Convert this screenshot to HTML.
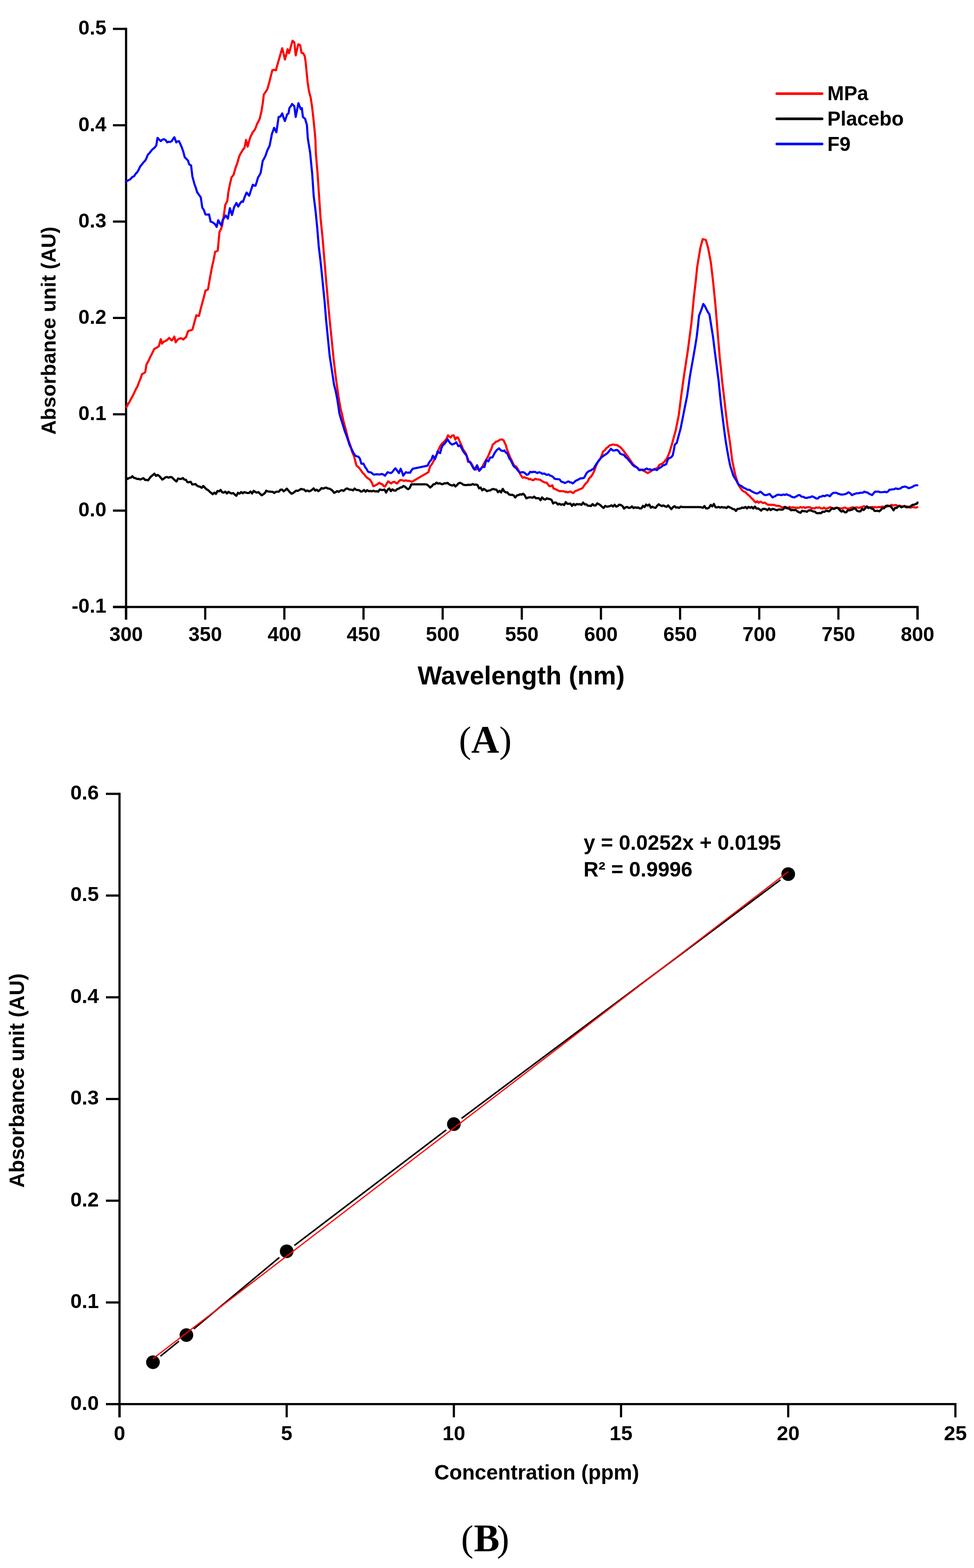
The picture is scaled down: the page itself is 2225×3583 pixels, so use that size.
<!DOCTYPE html>
<html><head><meta charset="utf-8"><title>Figure</title>
<style>html,body{margin:0;padding:0;background:#fff;overflow:hidden;}svg{display:block;}</style>
</head><body>
<svg width="2225" height="3583" viewBox="0 0 2225 3583">
<rect width="100%" height="100%" fill="#fff"/>
<g stroke="#000" stroke-width="5.0" fill="none" stroke-linecap="butt">
<path d="M288.0 63.5 V1416.0"/>
<path d="M258.0 1387.0 H2096.0 V1416.0"/>
<path d="M258.0 66.0 H288.0"/>
<path d="M258.0 286.2 H288.0"/>
<path d="M258.0 506.3 H288.0"/>
<path d="M258.0 726.5 H288.0"/>
<path d="M258.0 946.7 H288.0"/>
<path d="M258.0 1166.8 H288.0"/>
<path d="M258.0 1387.0 H288.0"/>
<path d="M288.0 1387.0 V1416.0"/>
<path d="M468.8 1387.0 V1416.0"/>
<path d="M649.6 1387.0 V1416.0"/>
<path d="M830.4 1387.0 V1416.0"/>
<path d="M1011.2 1387.0 V1416.0"/>
<path d="M1192.0 1387.0 V1416.0"/>
<path d="M1372.8 1387.0 V1416.0"/>
<path d="M1553.6 1387.0 V1416.0"/>
<path d="M1734.4 1387.0 V1416.0"/>
<path d="M1915.2 1387.0 V1416.0"/>
<path d="M2096.0 1387.0 V1416.0"/>
</g>
<g font-family="'Liberation Sans', Arial, sans-serif" font-weight="bold" font-size="46" fill="#000" text-anchor="end">
<text x="243" y="79.3">0.5</text>
<text x="243" y="299.5">0.4</text>
<text x="243" y="519.6">0.3</text>
<text x="243" y="739.8">0.2</text>
<text x="243" y="960.0">0.1</text>
<text x="243" y="1180.1">0.0</text>
<text x="243" y="1400.3">-0.1</text>
</g>
<g font-family="'Liberation Sans', Arial, sans-serif" font-weight="bold" font-size="46" fill="#000" text-anchor="middle">
<text x="288.0" y="1465">300</text>
<text x="468.8" y="1465">350</text>
<text x="649.6" y="1465">400</text>
<text x="830.4" y="1465">450</text>
<text x="1011.2" y="1465">500</text>
<text x="1192.0" y="1465">550</text>
<text x="1372.8" y="1465">600</text>
<text x="1553.6" y="1465">650</text>
<text x="1734.4" y="1465">700</text>
<text x="1915.2" y="1465">750</text>
<text x="2096.0" y="1465">800</text>
</g>
<text x="1190.5" y="1563.5" font-family="'Liberation Sans', Arial, sans-serif" font-weight="bold" font-size="59" text-anchor="middle">Wavelength (nm)</text>
<text transform="translate(126.5 755.7) rotate(-90)" font-family="'Liberation Sans', Arial, sans-serif" font-weight="bold" font-size="46.3" text-anchor="middle">Absorbance unit (AU)</text>
<g fill="none" stroke-width="4.8" stroke-linejoin="round" stroke-linecap="round">
<path stroke="#f00" d="M288.9 930.3L292.6 923.4 296.3 917.5 300.0 910.1 303.7 903.7 307.1 896.5 310.6 889.0 314.0 883.0 317.5 873.4 320.9 865.4 324.4 854.9 328.1 853.1 331.8 850.4 334.7 832.7 339.1 824.9 343.6 815.0 348.1 806.3 352.5 797.2 355.9 795.6 359.4 793.5 362.8 791.3 367.3 775.0 370.2 785.3 373.9 780.7 377.6 779.4 382.1 776.6 386.5 772.0 389.4 775.5 392.4 778.0 395.4 774.0 398.3 769.1 401.3 782.4 405.7 776.3 410.1 773.5 414.6 773.0 419.0 775.9 421.9 772.4 424.9 770.6 429.4 757.2 432.8 755.3 436.3 754.6 439.7 752.8 444.1 736.5 448.6 720.3 451.6 721.6 454.5 721.8 458.9 704.1 463.4 687.7 466.4 676.2 469.3 664.1 472.2 663.0 475.2 661.1 479.6 635.3 484.1 610.8 487.8 594.8 491.5 575.3 494.4 574.4 497.4 572.4 501.4 530.0 504.4 524.3 507.4 516.2 512.1 486.4 514.5 468.6 519.3 459.0 521.7 438.8 525.2 421.0 528.8 405.5 533.6 399.5 538.3 382.9 541.9 373.3 546.7 356.7 549.7 350.7 552.6 346.0 555.6 341.1 558.6 337.6 562.1 319.8 565.7 335.2 568.7 324.2 571.7 313.8 574.7 307.7 577.6 301.9 582.4 296.0 587.6 282.5 590.5 277.2 593.5 270.7 597.5 253.0 600.5 234.5 602.6 216.0 606.7 210.1 610.8 203.7 615.9 185.3 619.0 172.5 622.1 160.6 626.2 159.6 630.3 160.6 635.4 142.1 639.5 127.8 644.7 110.3 647.8 122.6 650.8 136.0 653.9 125.4 657.0 112.4 660.1 121.6 663.2 111.3 668.3 92.9 672.4 97.0 675.5 126.7 678.5 113.1 681.6 101.1 685.7 103.1 688.8 120.6 692.0 121.4 695.9 127.3 697.9 139.2 699.9 158.9 702.8 188.5 705.8 208.2 709.7 223.0 712.7 242.7 715.6 267.4 718.6 297.0 720.6 320.0 721.5 349.3 725.6 398.5 728.9 447.8 732.2 497.0 737.1 546.3 741.2 595.6 745.3 644.8 750.2 700.0 753.1 731.0 758.1 780.3 762.2 821.4 767.1 862.4 770.0 883.2 772.8 903.5 775.7 920.3 778.6 936.3 781.5 947.1 784.3 960.9 787.6 973.3 790.9 985.6 794.2 999.2 797.5 1010.2 800.8 1018.8 804.0 1031.5 809.0 1043.0 812.2 1056.2 814.7 1064.4 817.6 1066.5 820.5 1069.3 824.6 1074.9 828.7 1080.8 832.3 1084.1 835.9 1089.0 839.2 1092.1 842.5 1094.2 845.8 1096.9 849.2 1102.4 852.7 1110.8 856.2 1110.1 859.7 1107.8 863.2 1106.0 866.6 1102.9 870.1 1105.8 873.6 1106.8 876.5 1110.7 879.5 1111.8 883.0 1106.2 886.5 1099.9 890.0 1102.5 893.4 1104.8 897.3 1101.6 901.3 1100.9 904.3 1103.5 907.3 1104.8 910.8 1100.2 914.2 1096.9 918.7 1097.4 923.2 1098.9 927.2 1097.6 931.1 1098.9 934.4 1098.6 937.7 1099.7 941.0 1100.9 978.7 1079.0 982.7 1065.2 986.7 1060.5 990.6 1053.3 994.6 1043.3 998.6 1037.4 1002.0 1027.0 1005.5 1019.5 1009.5 1013.6 1013.0 1010.8 1016.4 1007.6 1019.9 1002.6 1023.4 994.7 1026.3 997.8 1029.3 999.7 1032.8 995.3 1036.3 994.7 1040.2 1004.6 1043.2 999.6 1046.2 999.7 1050.2 1009.0 1054.1 1017.5 1058.1 1027.5 1061.5 1031.7 1065.0 1037.4 1069.0 1055.2 1074.0 1055.2 1078.0 1061.0 1081.9 1069.1 1086.9 1073.1 1091.8 1071.1 1094.8 1073.1 1097.8 1073.1 1101.1 1068.2 1104.4 1061.3 1107.7 1055.2 1110.7 1050.5 1113.7 1045.3 1116.7 1038.8 1119.6 1031.4 1122.7 1025.1 1125.8 1015.6 1129.2 1013.2 1132.7 1009.6 1136.0 1008.5 1139.4 1006.8 1142.7 1004.6 1146.7 1004.0 1150.6 1006.6 1155.6 1017.5 1158.5 1027.7 1161.5 1035.4 1165.0 1044.3 1168.5 1051.3 1172.0 1058.8 1175.4 1065.2 1178.3 1065.2 1181.3 1069.1 1184.3 1074.4 1187.3 1081.0 1190.8 1087.3 1194.2 1091.9 1197.9 1090.4 1201.5 1092.4 1205.2 1092.9 1208.5 1095.3 1211.8 1094.3 1215.1 1096.9 1219.0 1097.0 1223.0 1093.9 1227.0 1095.5 1230.9 1095.7 1234.9 1096.9 1237.9 1099.2 1240.9 1100.9 1244.8 1102.5 1248.8 1102.9 1251.8 1107.0 1254.8 1110.8 1258.2 1110.9 1261.7 1108.8 1264.7 1116.7 1268.0 1117.4 1271.3 1119.0 1274.6 1120.7 1277.9 1122.4 1281.2 1122.1 1284.5 1122.7 1287.8 1122.2 1291.1 1124.3 1294.4 1123.7 1297.7 1125.2 1301.1 1123.3 1304.4 1123.7 1309.3 1126.7 1313.8 1122.3 1318.3 1120.7 1322.3 1118.9 1326.2 1117.3 1330.2 1115.8 1334.2 1110.0 1338.1 1104.8 1342.1 1100.9 1346.0 1093.2 1350.0 1089.0 1354.0 1083.3 1357.9 1075.1 1360.9 1065.9 1363.9 1059.2 1367.8 1052.5 1371.8 1047.3 1374.8 1040.0 1377.8 1031.4 1381.8 1028.6 1385.7 1023.5 1389.2 1021.4 1392.7 1017.5 1396.3 1016.9 1400.0 1015.7 1403.3 1016.3 1406.5 1016.7 1409.8 1017.0 1413.3 1019.7 1416.8 1021.3 1420.9 1026.0 1425.1 1031.0 1429.3 1036.9 1433.5 1042.2 1437.2 1048.3 1441.0 1053.3 1444.7 1058.9 1448.4 1062.9 1452.2 1066.0 1455.9 1068.7 1459.6 1072.6 1463.3 1072.8 1467.0 1074.3 1471.2 1076.2 1475.4 1078.6 1479.6 1081.3 1482.9 1079.0 1486.1 1077.6 1489.4 1074.3 1492.9 1072.2 1496.3 1071.2 1499.8 1070.9 1503.3 1067.3 1506.7 1061.9 1510.0 1060.6 1513.3 1059.1 1516.7 1056.1 1520.4 1051.6 1524.1 1046.3 1527.0 1039.4 1529.9 1032.0 1535.1 1014.7 1539.7 997.5 1543.7 983.1 1547.1 965.9 1550.6 948.6 1555.0 913.0 1559.0 883.6 1563.0 855.1 1567.2 827.9 1571.5 799.3 1575.5 768.8 1579.5 737.8 1582.6 705.2 1585.7 673.6 1589.2 643.9 1592.7 609.4 1596.2 588.8 1599.7 567.5 1602.5 556.4 1605.2 546.5 1608.8 547.3 1612.3 548.2 1617.6 566.3 1620.8 583.2 1624.0 600.5 1626.7 623.9 1629.4 647.5 1634.7 700.9 1639.0 754.4 1644.3 818.5 1647.0 842.5 1649.7 871.9 1652.9 898.1 1656.1 925.3 1659.3 953.0 1662.5 978.7 1665.7 998.9 1668.9 1021.5 1672.3 1050.6 1675.8 1067.3 1679.3 1084.1 1683.4 1097.6 1687.6 1109.2 1691.3 1114.7 1695.1 1120.0 1698.8 1123.2 1702.5 1124.3 1706.3 1128.4 1710.0 1131.6 1713.3 1134.3 1716.5 1138.3 1719.8 1140.7 1723.2 1145.5 1726.5 1148.2 1729.8 1145.4 1733.1 1149.0 1736.4 1146.3 1739.7 1147.6 1743.4 1149.5 1747.1 1148.5 1750.8 1151.3 1754.5 1153.5 1758.2 1153.5 1762.2 1153.4 1766.1 1153.5 1769.9 1154.4 1773.7 1155.8 1777.5 1155.9 1781.2 1156.4 1785.0 1158.8 1788.8 1159.1 1792.6 1158.8 1796.2 1158.6 1799.8 1161.8 1803.4 1158.0 1807.0 1160.2 1810.6 1159.1 1814.3 1159.6 1817.9 1160.3 1821.5 1160.0 1825.1 1160.5 1828.7 1158.5 1832.3 1160.1 1835.9 1158.6 1839.4 1160.8 1843.0 1159.2 1846.6 1159.2 1850.1 1158.8 1853.7 1161.6 1857.2 1161.1 1860.8 1161.9 1864.4 1159.5 1867.9 1160.5 1871.5 1159.4 1875.1 1161.3 1878.6 1162.2 1882.2 1159.7 1885.7 1162.2 1889.3 1161.7 1892.9 1160.5 1896.4 1158.8 1900.0 1160.8 1903.8 1162.2 1907.6 1160.7 1911.4 1160.2 1915.1 1161.2 1918.9 1161.2 1922.7 1162.3 1926.5 1160.8 1930.1 1159.6 1933.7 1161.6 1937.3 1161.8 1940.9 1161.6 1944.5 1159.8 1948.0 1159.1 1951.6 1160.7 1955.2 1159.6 1958.8 1159.5 1962.4 1160.6 1966.0 1159.0 1969.8 1158.7 1973.6 1156.7 1977.3 1158.6 1981.1 1157.1 1984.9 1159.8 1988.7 1159.3 1992.4 1158.4 1996.2 1159.0 2000.0 1159.0 2003.6 1159.5 2007.3 1158.4 2010.9 1159.2 2014.5 1157.5 2018.2 1158.2 2021.8 1158.3 2025.5 1158.1 2029.1 1155.4 2032.7 1156.6 2036.4 1153.5 2040.0 1155.0 2043.6 1154.3 2047.1 1153.8 2050.7 1157.1 2054.3 1155.2 2057.9 1156.8 2061.4 1157.0 2065.0 1157.5 2068.8 1157.7 2072.6 1157.3 2076.4 1158.3 2080.2 1160.0 2084.1 1158.5 2087.9 1159.2 2091.7 1159.8 2095.5 1159.0"/>
<path stroke="#000" stroke-width="5.0" d="M288.0 1090.9L291.6 1094.4 295.2 1092.0 298.8 1091.6 302.4 1088.2 306.0 1091.9 309.6 1092.7 313.2 1094.5 316.8 1094.3 320.4 1095.6 324.0 1094.4 327.6 1092.5 331.2 1096.7 334.8 1096.7 338.4 1097.6 342.0 1092.3 345.6 1088.4 349.2 1085.5 352.8 1082.4 356.4 1087.5 360.0 1085.2 363.6 1087.5 367.2 1091.5 370.8 1095.8 374.4 1093.6 378.0 1090.7 381.6 1090.0 385.2 1091.4 388.8 1090.1 392.4 1090.6 396.0 1093.9 399.6 1097.5 403.2 1100.2 406.8 1093.5 410.4 1094.2 414.0 1094.4 417.6 1092.3 421.2 1095.9 424.8 1096.5 428.4 1102.1 432.0 1101.7 435.6 1100.9 439.2 1107.1 442.8 1106.9 446.4 1105.9 450.0 1109.8 453.6 1111.5 457.2 1112.3 460.8 1114.7 464.4 1110.5 468.0 1114.4 471.6 1117.9 475.2 1119.8 478.8 1123.3 482.4 1126.4 486.0 1129.4 489.6 1125.6 493.2 1128.7 496.8 1122.0 500.4 1122.8 504.0 1119.5 507.6 1125.0 511.2 1125.7 514.8 1123.3 518.4 1127.6 522.0 1123.7 525.6 1126.3 529.2 1127.7 532.8 1126.7 536.4 1130.3 540.0 1132.9 543.6 1126.1 547.2 1128.1 550.8 1124.4 554.4 1127.1 558.0 1124.5 561.6 1125.6 565.2 1126.6 568.8 1126.5 572.4 1123.2 576.0 1127.7 579.6 1121.5 583.2 1124.2 586.8 1125.7 590.4 1124.5 594.0 1128.2 597.6 1131.7 601.2 1129.8 604.8 1127.1 608.4 1121.2 612.0 1123.1 615.6 1123.2 619.2 1123.8 622.8 1123.8 626.4 1126.5 630.0 1124.0 633.6 1123.4 637.2 1123.3 640.8 1118.9 644.4 1118.8 648.0 1122.7 651.6 1119.9 655.2 1116.6 658.8 1120.9 662.4 1124.9 666.0 1128.2 669.6 1126.4 673.2 1123.7 676.8 1121.1 680.4 1121.7 684.0 1119.6 687.6 1117.3 691.2 1118.1 694.8 1118.8 698.4 1122.5 702.0 1120.8 705.6 1122.7 709.2 1121.8 712.8 1119.3 716.4 1116.0 720.0 1121.0 723.6 1119.0 727.2 1122.4 730.8 1119.6 734.4 1115.4 738.0 1116.5 741.6 1115.1 745.2 1114.3 748.8 1116.3 752.4 1116.6 756.0 1118.5 759.6 1121.2 763.2 1126.1 766.8 1124.6 770.4 1122.2 774.0 1123.9 777.6 1121.1 781.2 1120.1 784.8 1121.8 788.4 1118.5 792.0 1116.0 795.6 1117.4 799.2 1119.1 802.8 1118.9 806.4 1120.6 810.0 1116.5 813.6 1119.4 817.2 1119.8 820.8 1120.3 824.4 1123.3 828.0 1122.6 831.6 1119.7 835.2 1123.7 838.8 1120.1 842.4 1122.5 846.0 1122.0 849.6 1122.8 853.2 1121.3 856.8 1123.0 860.4 1122.5 864.0 1123.5 867.6 1118.5 871.2 1119.4 874.8 1119.7 878.4 1118.6 882.0 1125.6 885.6 1119.1 889.2 1116.1 892.8 1122.3 896.4 1118.2 900.0 1120.7 903.6 1121.2 907.2 1117.8 910.8 1116.6 914.4 1114.3 918.0 1113.5 921.6 1110.5 925.2 1112.2 928.8 1115.6 932.4 1117.9 936.0 1115.1 939.6 1106.8 943.2 1106.8 946.8 1106.8 950.4 1106.8 954.0 1106.8 957.6 1106.8 961.2 1106.8 964.8 1106.8 968.4 1106.8 972.0 1106.8 975.6 1107.4 979.2 1110.4 982.8 1114.0 986.4 1111.1 990.0 1106.8 993.6 1106.3 997.2 1102.8 1000.8 1105.1 1004.4 1104.3 1008.0 1105.9 1011.6 1106.4 1015.2 1104.3 1018.8 1104.7 1022.4 1103.4 1026.0 1106.7 1029.6 1108.4 1033.2 1109.6 1036.8 1107.5 1040.4 1111.7 1044.0 1108.3 1047.6 1104.3 1051.2 1103.2 1054.8 1104.9 1058.4 1107.7 1062.0 1108.2 1065.6 1108.4 1069.2 1107.7 1072.8 1108.1 1076.4 1107.7 1080.0 1105.9 1083.6 1107.7 1087.2 1107.1 1090.8 1108.3 1094.4 1115.8 1098.0 1114.2 1101.6 1120.6 1105.2 1117.1 1108.8 1119.4 1112.4 1122.4 1116.0 1121.0 1119.6 1120.8 1123.2 1118.4 1126.8 1117.3 1130.4 1118.5 1134.0 1119.0 1137.6 1124.6 1141.2 1121.6 1144.8 1125.2 1148.4 1117.1 1152.0 1122.9 1155.6 1125.2 1159.2 1125.2 1162.8 1129.9 1166.4 1130.9 1170.0 1130.4 1173.6 1132.3 1177.2 1136.9 1180.8 1131.9 1184.4 1131.5 1188.0 1129.5 1191.6 1130.3 1195.2 1128.3 1198.8 1132.0 1202.4 1138.8 1206.0 1137.2 1209.6 1136.4 1213.2 1136.6 1216.8 1137.4 1220.4 1134.8 1224.0 1138.5 1227.6 1138.3 1231.2 1138.5 1234.8 1143.1 1238.4 1136.6 1242.0 1140.4 1245.6 1141.6 1249.2 1138.6 1252.8 1140.1 1256.4 1140.5 1260.0 1142.4 1263.6 1150.5 1267.2 1148.1 1270.8 1148.7 1274.4 1153.0 1278.0 1151.0 1281.6 1153.3 1285.2 1152.1 1288.8 1154.0 1292.4 1147.4 1296.0 1151.2 1299.6 1151.2 1303.2 1150.8 1306.8 1156.0 1310.4 1151.4 1314.0 1154.5 1317.6 1151.7 1321.2 1152.5 1324.8 1151.9 1328.4 1153.7 1332.0 1148.3 1335.6 1152.4 1339.2 1152.3 1342.8 1155.6 1346.4 1155.7 1350.0 1156.3 1353.6 1151.9 1357.2 1155.1 1360.8 1154.9 1364.4 1150.3 1368.0 1152.0 1371.6 1154.4 1375.2 1158.0 1378.8 1160.7 1382.4 1156.0 1386.0 1157.9 1389.6 1157.2 1393.2 1156.6 1396.8 1154.8 1400.4 1157.4 1404.0 1153.4 1407.6 1157.7 1411.2 1156.4 1414.8 1153.1 1418.4 1154.1 1422.0 1156.4 1425.6 1162.1 1429.2 1159.2 1432.8 1158.4 1436.4 1160.6 1440.0 1160.2 1443.6 1157.1 1447.2 1161.1 1450.8 1159.0 1454.4 1160.5 1458.0 1159.5 1461.6 1162.0 1465.2 1161.6 1468.8 1156.0 1472.4 1158.7 1476.0 1153.0 1479.6 1155.5 1483.2 1152.9 1486.8 1160.1 1490.4 1157.8 1494.0 1159.9 1497.6 1160.6 1501.2 1155.7 1504.8 1152.4 1508.4 1154.8 1512.0 1156.4 1515.6 1154.9 1519.2 1156.9 1522.8 1158.3 1526.4 1154.9 1530.0 1159.3 1533.6 1163.4 1537.2 1159.1 1540.8 1156.5 1544.4 1159.9 1548.0 1159.3 1551.6 1160.6 1555.2 1157.6 1558.8 1158.7 1562.4 1158.7 1566.0 1158.7 1569.6 1158.7 1573.2 1158.7 1576.8 1158.7 1580.4 1158.7 1584.0 1158.7 1587.6 1158.7 1591.2 1158.7 1594.8 1158.7 1598.4 1158.7 1602.0 1159.2 1605.6 1160.4 1609.2 1156.4 1612.8 1161.7 1616.4 1161.7 1620.0 1159.8 1623.6 1153.7 1627.2 1157.2 1630.8 1151.6 1634.4 1159.0 1638.0 1159.5 1641.6 1158.2 1645.2 1160.0 1648.8 1158.5 1652.4 1159.8 1656.0 1159.3 1659.6 1160.9 1663.2 1157.6 1666.8 1159.3 1670.4 1160.8 1674.0 1163.1 1677.6 1163.7 1681.2 1167.5 1684.8 1162.7 1688.4 1162.5 1692.0 1161.7 1695.6 1159.8 1699.2 1160.7 1702.8 1158.4 1706.4 1161.8 1710.0 1158.1 1713.6 1160.5 1717.2 1158.4 1720.8 1161.9 1724.4 1157.5 1728.0 1162.3 1731.6 1161.7 1735.2 1164.1 1738.8 1166.8 1742.4 1162.9 1746.0 1162.8 1749.6 1163.5 1753.2 1165.9 1756.8 1161.8 1760.4 1165.6 1764.0 1163.0 1767.6 1163.2 1771.2 1164.7 1774.8 1166.0 1778.4 1164.1 1782.0 1164.2 1785.6 1164.8 1789.2 1163.9 1792.8 1158.4 1796.4 1161.3 1800.0 1161.2 1803.6 1163.1 1807.2 1166.0 1810.8 1165.2 1814.4 1165.8 1818.0 1165.3 1821.6 1168.5 1825.2 1170.6 1828.8 1171.7 1832.4 1167.0 1836.0 1168.2 1839.6 1168.2 1843.2 1169.5 1846.8 1166.6 1850.4 1166.1 1854.0 1167.0 1857.6 1168.7 1861.2 1168.9 1864.8 1172.2 1868.4 1172.9 1872.0 1172.3 1875.6 1172.8 1879.2 1169.1 1882.8 1169.8 1886.4 1167.5 1890.0 1167.3 1893.6 1168.6 1897.2 1165.3 1900.8 1160.9 1904.4 1163.2 1908.0 1161.7 1911.6 1159.9 1915.2 1161.6 1918.8 1166.1 1922.4 1169.2 1926.0 1166.8 1929.6 1170.6 1933.2 1170.8 1936.8 1165.6 1940.4 1166.4 1944.0 1165.1 1947.6 1164.3 1951.2 1160.5 1954.8 1163.6 1958.4 1167.6 1962.0 1168.5 1965.6 1168.6 1969.2 1162.8 1972.8 1165.4 1976.4 1161.9 1980.0 1157.3 1983.6 1160.9 1987.2 1159.2 1990.8 1162.1 1994.4 1162.9 1998.0 1167.5 2001.6 1167.4 2005.2 1167.1 2008.8 1168.5 2012.4 1165.0 2016.0 1160.9 2019.6 1161.5 2023.2 1156.4 2026.8 1155.3 2030.4 1156.5 2034.0 1156.7 2037.6 1160.5 2041.2 1166.1 2044.8 1160.4 2048.4 1160.8 2052.0 1157.0 2055.6 1156.4 2059.2 1159.3 2062.8 1157.8 2066.4 1156.0 2070.0 1159.2 2073.6 1159.0 2077.2 1158.8 2080.8 1156.4 2084.4 1153.6 2088.0 1153.4 2091.6 1151.9 2095.2 1150.5 2095.8 1148.2"/>
<path stroke="#00f" d="M288.9 414.2L293.3 411.8 297.7 409.7 302.1 404.7 306.6 402.3 310.1 396.8 313.5 393.5 317.0 387.5 319.9 380.7 322.9 377.2 327.4 371.4 331.8 366.8 334.8 361.2 337.7 353.5 341.1 350.4 344.6 345.6 348.0 341.7 352.4 338.1 356.9 332.8 359.9 315.0 363.6 318.9 367.3 322.5 371.0 319.1 374.6 318.0 378.3 320.1 382.0 325.4 385.5 323.8 388.9 324.4 392.4 322.5 395.4 317.5 398.3 313.6 402.7 325.4 405.7 323.0 408.7 322.5 412.4 329.8 416.0 338.7 419.0 347.5 422.0 359.4 425.7 363.0 429.4 366.8 432.4 375.7 436.5 378.1 439.5 403.1 444.3 421.0 447.2 428.7 450.2 438.8 454.4 445.1 458.6 450.7 462.1 474.5 465.7 479.9 469.3 490.0 473.5 490.3 477.6 490.0 481.2 506.7 484.1 507.2 487.1 509.0 491.0 511.9 494.9 518.6 498.5 503.1 502.1 509.8 505.6 515.0 508.6 503.1 512.2 497.5 515.7 492.4 520.5 499.5 525.2 475.7 530.0 491.2 534.8 473.3 540.1 463.8 544.3 472.1 549.0 463.8 552.0 460.4 555.0 461.4 559.1 449.8 563.3 440.0 566.3 443.8 569.3 447.1 573.5 434.1 577.6 422.1 580.6 424.1 583.6 424.5 586.5 415.7 589.5 405.5 592.5 400.8 595.5 394.8 600.2 367.4 603.2 362.4 606.2 356.7 610.8 343.4 615.9 333.1 621.1 306.4 626.2 292.0 631.3 302.3 636.5 267.4 640.6 266.4 644.7 259.2 647.8 269.2 650.8 276.6 656.0 261.2 659.1 259.2 661.1 246.9 664.2 242.9 667.3 237.6 672.4 242.7 675.5 267.4 678.5 252.0 681.6 235.6 686.8 248.9 689.5 247.0 692.0 267.4 697.0 271.5 701.1 285.9 703.2 316.7 708.3 347.5 713.3 398.5 716.6 447.8 720.7 480.6 724.8 521.7 728.1 562.7 733.0 603.8 737.1 644.8 741.6 690.0 744.9 731.0 749.0 772.1 753.1 813.2 758.1 846.0 763.0 878.8 766.7 893.2 770.4 911.7 775.3 944.5 779.0 957.7 782.7 969.1 786.8 982.8 790.9 993.8 795.0 1005.8 799.1 1018.4 803.2 1026.1 807.3 1034.8 811.4 1040.8 815.5 1043.0 818.8 1043.7 822.1 1048.0 825.4 1059.5 830.3 1059.5 834.4 1067.7 837.5 1071.9 840.7 1077.7 843.8 1079.0 847.3 1079.3 850.8 1082.2 854.2 1084.6 857.7 1084.0 861.2 1083.6 864.7 1084.1 868.1 1084.2 871.6 1083.0 875.5 1084.1 879.5 1087.0 882.5 1082.9 885.5 1079.0 889.5 1080.3 893.4 1081.0 896.7 1078.2 900.0 1073.7 903.3 1070.1 907.3 1075.4 911.3 1081.0 915.2 1071.1 918.2 1078.0 921.2 1087.0 924.2 1082.6 927.1 1079.0 930.4 1080.2 933.8 1079.8 937.1 1080.0 940.0 1074.7 943.0 1071.1 976.7 1064.2 979.7 1057.9 982.7 1053.3 985.7 1050.0 988.7 1041.3 993.6 1049.3 996.6 1041.5 999.6 1031.4 1002.5 1034.0 1005.5 1035.4 1008.5 1023.9 1011.5 1017.5 1014.5 1015.2 1017.4 1011.6 1022.4 1003.7 1025.8 1009.1 1029.3 1013.6 1032.8 1015.8 1036.3 1014.6 1039.2 1013.0 1042.2 1010.6 1047.2 1019.5 1051.1 1017.5 1054.1 1023.4 1057.1 1029.4 1061.5 1035.9 1066.0 1041.3 1071.0 1055.2 1074.5 1057.3 1077.9 1063.2 1080.9 1069.2 1083.9 1073.1 1086.8 1068.5 1089.8 1063.2 1094.8 1076.1 1098.2 1070.9 1101.7 1067.1 1106.7 1067.1 1110.7 1051.3 1115.6 1054.2 1120.0 1045.3 1124.8 1045.3 1129.8 1035.4 1134.7 1028.5 1139.7 1024.5 1144.6 1029.4 1148.6 1030.7 1152.6 1029.4 1155.5 1034.2 1158.5 1035.4 1163.5 1047.3 1166.8 1051.9 1170.1 1058.6 1173.4 1065.2 1176.4 1067.9 1179.4 1070.1 1183.3 1075.2 1187.3 1080.0 1191.2 1079.1 1195.2 1079.0 1199.2 1081.0 1203.2 1085.0 1207.2 1083.7 1211.1 1078.1 1215.0 1079.1 1219.0 1078.1 1223.0 1078.4 1227.0 1081.0 1231.0 1079.2 1234.9 1080.0 1238.9 1082.7 1242.9 1082.0 1246.2 1083.7 1249.5 1085.2 1252.8 1084.0 1256.8 1086.8 1260.7 1088.0 1263.7 1090.1 1266.7 1093.9 1270.7 1094.7 1274.6 1094.9 1278.5 1095.7 1282.5 1100.9 1286.5 1101.6 1290.5 1103.8 1294.5 1101.8 1298.4 1099.9 1301.7 1102.1 1305.0 1102.4 1308.3 1104.8 1312.3 1101.2 1316.3 1097.9 1319.6 1096.7 1322.9 1094.9 1326.2 1092.9 1330.2 1093.0 1334.1 1091.9 1337.1 1086.7 1340.1 1081.0 1343.0 1078.2 1346.0 1076.1 1349.3 1075.2 1352.7 1072.8 1356.0 1071.1 1359.3 1065.0 1362.6 1059.9 1365.9 1055.2 1369.8 1050.2 1373.8 1045.3 1377.8 1042.2 1381.7 1039.4 1384.7 1037.6 1387.7 1035.4 1391.7 1030.4 1395.6 1025.5 1400.0 1029.6 1403.3 1029.3 1406.5 1028.5 1409.8 1028.2 1413.3 1031.1 1416.8 1036.6 1420.9 1038.4 1425.1 1039.4 1429.3 1044.7 1433.5 1047.8 1437.2 1052.9 1441.0 1056.9 1444.7 1061.7 1448.5 1065.3 1452.3 1067.0 1456.2 1069.3 1460.0 1074.3 1463.5 1074.1 1467.0 1072.9 1470.5 1074.3 1474.0 1072.3 1477.5 1070.5 1481.0 1072.9 1484.9 1072.1 1488.8 1075.0 1492.7 1073.4 1496.6 1072.7 1500.5 1074.3 1503.7 1071.0 1506.9 1069.3 1510.7 1067.0 1514.4 1063.6 1518.1 1062.6 1521.8 1060.7 1525.9 1049.2 1529.5 1046.5 1533.2 1045.0 1536.8 1040.6 1539.7 1026.2 1541.4 1016.4 1546.0 1011.8 1550.6 994.6 1554.6 980.2 1558.0 963.0 1560.9 948.6 1564.5 930.0 1569.5 905.4 1572.7 883.8 1575.9 860.7 1580.1 836.9 1584.3 813.2 1587.8 792.8 1591.3 771.3 1594.1 747.9 1596.9 721.1 1600.1 713.2 1603.4 704.4 1606.6 694.5 1610.1 699.4 1613.6 706.3 1617.1 713.1 1620.6 718.3 1624.8 744.5 1629.0 771.3 1632.5 800.3 1636.0 827.2 1638.8 848.7 1641.5 869.1 1644.3 897.9 1647.1 924.9 1650.6 952.6 1654.1 980.8 1657.6 1007.0 1661.1 1028.2 1664.6 1047.6 1668.1 1064.5 1671.6 1075.5 1675.1 1086.9 1678.6 1092.5 1682.1 1098.0 1686.2 1106.2 1690.4 1109.2 1694.6 1111.2 1698.8 1114.7 1703.0 1116.2 1706.2 1118.7 1709.5 1119.2 1712.7 1119.5 1715.9 1122.2 1719.9 1124.2 1723.8 1126.1 1727.8 1127.5 1730.9 1127.3 1733.9 1125.6 1737.0 1123.5 1740.5 1126.2 1744.1 1129.6 1747.6 1131.4 1751.1 1131.1 1754.7 1129.9 1758.2 1128.8 1761.5 1132.8 1764.8 1136.7 1767.9 1134.7 1771.0 1133.9 1774.1 1131.4 1777.9 1130.3 1781.6 1130.8 1785.4 1131.4 1789.2 1129.9 1793.0 1131.0 1796.7 1129.4 1800.5 1131.4 1803.8 1132.0 1807.2 1134.6 1810.5 1135.9 1813.8 1136.7 1817.1 1135.3 1820.4 1133.8 1823.7 1131.3 1827.0 1131.4 1831.0 1134.9 1835.0 1135.2 1838.9 1137.4 1842.9 1138.0 1846.9 1136.5 1850.8 1136.5 1854.8 1134.2 1858.7 1135.4 1861.8 1137.5 1864.9 1139.0 1868.0 1139.4 1872.0 1135.3 1875.9 1134.9 1879.9 1132.8 1883.9 1133.8 1887.8 1131.7 1891.8 1131.9 1895.8 1134.1 1899.8 1129.0 1903.7 1126.1 1907.2 1126.1 1910.8 1126.0 1914.3 1128.1 1917.8 1129.0 1921.4 1130.1 1924.9 1130.1 1928.2 1129.5 1931.5 1129.0 1934.8 1127.3 1938.1 1124.8 1942.0 1126.8 1946.0 1131.4 1949.7 1129.8 1953.4 1128.2 1957.2 1127.1 1960.9 1127.1 1964.6 1126.1 1967.9 1125.8 1971.2 1125.9 1974.5 1123.5 1977.8 1124.8 1981.4 1125.2 1985.0 1128.1 1988.7 1129.6 1992.3 1131.4 1995.6 1127.1 1998.9 1123.5 2002.7 1123.6 2006.5 1123.1 2010.3 1124.8 2014.0 1124.6 2017.8 1124.3 2021.6 1123.9 2025.4 1124.8 2028.7 1123.0 2032.0 1118.8 2035.3 1118.9 2038.6 1118.2 2042.6 1117.9 2046.5 1116.0 2050.5 1117.4 2054.5 1116.9 2057.8 1115.7 2061.1 1112.9 2064.4 1112.7 2067.7 1111.6 2071.7 1113.3 2075.7 1115.6 2079.6 1114.4 2083.6 1112.9 2087.6 1110.5 2091.5 1108.9 2095.5 1108.9"/>
</g>
<g stroke-width="6" stroke-linecap="round">
<path stroke="#f00" d="M1774.5 214H1878"/>
<path stroke="#000" d="M1774.5 271.5H1878"/>
<path stroke="#00f" d="M1774.5 329H1878"/>
</g>
<g font-family="'Liberation Sans', Arial, sans-serif" font-weight="bold" font-size="45.5" fill="#000">
<text x="1890" y="229">MPa</text>
<text x="1890" y="286.5">Placebo</text>
<text x="1890" y="345">F9</text>
</g>
<text y="1719" font-family="'Liberation Serif', 'Times New Roman', serif" font-size="85"><tspan x="1048.2">(</tspan><tspan x="1076.5" font-size="88" font-weight="bold">A</tspan><tspan x="1140.5">)</tspan></text>
<g stroke="#000" stroke-width="5.0" fill="none">
<path d="M273.0 1811.5 V3238.6"/>
<path d="M242.0 3208.6 H2182.5 V3238.6"/>
<path d="M242.0 3208.6 H273.0"/>
<path d="M242.0 2976.2 H273.0"/>
<path d="M242.0 2743.7 H273.0"/>
<path d="M242.0 2511.3 H273.0"/>
<path d="M242.0 2278.9 H273.0"/>
<path d="M242.0 2046.4 H273.0"/>
<path d="M242.0 1814.0 H273.0"/>
<path d="M273.0 3208.6 V3238.6"/>
<path d="M654.9 3208.6 V3238.6"/>
<path d="M1036.8 3208.6 V3238.6"/>
<path d="M1418.7 3208.6 V3238.6"/>
<path d="M1800.6 3208.6 V3238.6"/>
<path d="M2182.5 3208.6 V3238.6"/>
</g>
<g font-family="'Liberation Sans', Arial, sans-serif" font-weight="bold" font-size="47" fill="#000" text-anchor="end">
<text x="226" y="3221.6">0.0</text>
<text x="226" y="2989.2">0.1</text>
<text x="226" y="2756.7">0.2</text>
<text x="226" y="2524.3">0.3</text>
<text x="226" y="2291.9">0.4</text>
<text x="226" y="2059.4">0.5</text>
<text x="226" y="1827.0">0.6</text>
</g>
<g font-family="'Liberation Sans', Arial, sans-serif" font-weight="bold" font-size="47" fill="#000" text-anchor="middle">
<text x="273.0" y="3291">0</text>
<text x="654.9" y="3291">5</text>
<text x="1036.8" y="3291">10</text>
<text x="1418.7" y="3291">15</text>
<text x="1800.6" y="3291">20</text>
<text x="2182.5" y="3291">25</text>
</g>
<text x="1226" y="3380.7" font-family="'Liberation Sans', Arial, sans-serif" font-weight="bold" font-size="47.6" text-anchor="middle">Concentration (ppm)</text>
<text transform="translate(55.3 2469.2) rotate(-90)" font-family="'Liberation Sans', Arial, sans-serif" font-weight="bold" font-size="47.7" text-anchor="middle">Absorbance unit (AU)</text>
<path fill="none" stroke="#000" stroke-width="3.6" d="M349.4 3112.8L425.8 3050.8 654.9 2859.3 1036.8 2568.7 1800.6 1997.4"/>
<circle cx="349.4" cy="3112.8" r="15.6" fill="#000" stroke="#fff" stroke-width="12.8" paint-order="stroke"/>
<circle cx="425.8" cy="3050.8" r="15.6" fill="#000" stroke="#fff" stroke-width="12.8" paint-order="stroke"/>
<circle cx="654.9" cy="2859.3" r="15.6" fill="#000" stroke="#fff" stroke-width="12.8" paint-order="stroke"/>
<circle cx="1036.8" cy="2568.7" r="15.6" fill="#000" stroke="#fff" stroke-width="12.8" paint-order="stroke"/>
<circle cx="1800.6" cy="1997.4" r="15.6" fill="#000" stroke="#fff" stroke-width="12.8" paint-order="stroke"/>
<path fill="none" stroke="#f00" stroke-width="2.8" d="M349.4 3104.7 L1800.6 1991.8"/>
<g font-family="'Liberation Sans', Arial, sans-serif" font-weight="bold" font-size="47.4" fill="#000">
<text x="1333.3" y="1942">y = 0.0252x + 0.0195</text>
<text x="1333" y="2002.5">R² = 0.9996</text>
</g>
<text y="3544" font-family="'Liberation Serif', 'Times New Roman', serif" font-size="85"><tspan x="1053.3">(</tspan><tspan x="1082.5" font-size="88" font-weight="bold">B</tspan><tspan x="1135.1">)</tspan></text>
</svg>
</body></html>
